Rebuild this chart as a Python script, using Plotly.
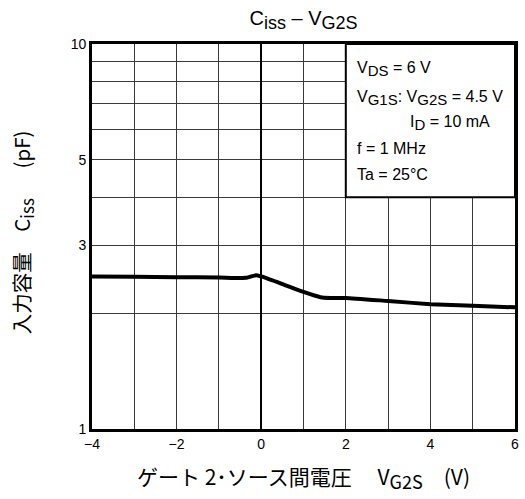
import plotly.graph_objects as go

# ---- data ----
vg2s = [-4, -3, -2, -1, -0.35, -0.12, 0, 0.5, 1.0, 1.4, 1.65, 2, 3, 4, 5, 6]
ciss = [2.49, 2.485, 2.48, 2.475, 2.47, 2.51, 2.49, 2.38, 2.27, 2.20, 2.19, 2.19, 2.15, 2.11, 2.09, 2.07]

x_tickvals = [-4, -2, 0, 2, 4, 6]
x_ticktext = ["\u22124", "\u22122", "0", "2", "4", "6"]
x_minor = [-3, -1, 1, 3, 5]
y_tickvals = [1, 3, 5, 10]
y_ticktext = ["1", "3", "5", "10"]
y_minor = [2, 4, 6, 7, 8, 9]


def sub(t, px):
    return "<sub><span style='font-size:%dpx'>%s</span></sub>" % (px, t)


cond_lines = [
    "V" + sub("DS", 15) + " = 6 V",
    "V" + sub("G1S", 15) + ": V" + sub("G2S", 15) + " = 4.5 V",
    "I" + sub("D", 15) + " = 10 mA",
    "f = 1 MHz",
    "Ta = 25°C",
]
cond_x = [0.621, 0.621, 0.747, 0.621, 0.621]
cond_y = [0.935, 0.860, 0.795, 0.728, 0.662]

box_x = [2, 6]
box_y = [4, 10]

FONT = "Liberation Sans, Arial, sans-serif"
CJK = "Noto Sans CJK JP, Liberation Sans, sans-serif"
GRID = "#3a3a3a"

fig = go.Figure()
fig.add_trace(go.Scatter(x=vg2s, y=ciss, mode="lines",
                         line=dict(color="black", width=4, shape="spline", smoothing=0.5),
                         hoverinfo="skip"))

fig.add_shape(type="rect", xref="x", yref="y",
              x0=box_x[0], x1=box_x[1], y0=box_y[0], y1=box_y[1],
              fillcolor="white", line=dict(color="black", width=2), layer="between")

for t, xx, yy in zip(cond_lines, cond_x, cond_y):
    fig.add_annotation(text=t, x=xx, y=yy, xref="paper", yref="paper",
                       xanchor="left", yanchor="middle", showarrow=False,
                       font=dict(family=FONT, size=16, color="black"))

fig.add_annotation(text="入力容量\u3000C" + sub("iss", 17) + "\u3000\u00a0\u00a0(pF)",
                   x=-0.164, y=0.51,
                   xref="paper", yref="paper", textangle=-90, showarrow=False,
                   xanchor="center", yanchor="middle",
                   font=dict(family=CJK, size=20.5, color="black"))
fig.add_annotation(text="ゲート 2･ソース間電圧\u3000\u00a0V" + sub("G2S", 18) + "\u3000(V)",
                   x=0.5, y=-0.126,
                   xref="paper", yref="paper", showarrow=False,
                   xanchor="center", yanchor="middle",
                   font=dict(family=CJK, size=21, color="black"))

fig.update_layout(
    width=525, height=499,
    margin=dict(l=92, r=6, t=44, b=70),
    paper_bgcolor="white", plot_bgcolor="white",
    showlegend=False,
    font=dict(family=FONT, size=14, color="black"),
    title=dict(text="C" + sub("iss", 18) + " – V" + sub("G2S", 18), x=0.5, xref="paper",
               y=1 - 18 / 499, yref="container", xanchor="center", yanchor="middle",
               font=dict(family=FONT, size=20, color="black")),
    xaxis=dict(range=[-4, 6], tickmode="array", tickvals=x_tickvals, ticktext=x_ticktext,
               showgrid=True, gridcolor=GRID, gridwidth=1.3,
               minor=dict(tickmode="array", tickvals=x_minor, showgrid=True,
                          gridcolor=GRID, gridwidth=1.3, ticks=""),
               zeroline=True, zerolinecolor="black", zerolinewidth=2.2,
               showline=True, mirror=True, linecolor="black", linewidth=2.6,
               ticks="", tickfont=dict(size=14)),
    yaxis=dict(type="log", range=[0, 1], tickmode="array", tickvals=y_tickvals,
               ticktext=y_ticktext, showgrid=True, gridcolor=GRID, gridwidth=1.3,
               minor=dict(tickmode="array", tickvals=y_minor, showgrid=True,
                          gridcolor=GRID, gridwidth=1.3, ticks=""),
               showline=True, mirror=True, linecolor="black", linewidth=2.6,
               ticks="", tickfont=dict(size=14)),
)

fig.write_html("out.html", config={"displayModeBar": False},
               post_script="document.body.style.margin='0px';")
